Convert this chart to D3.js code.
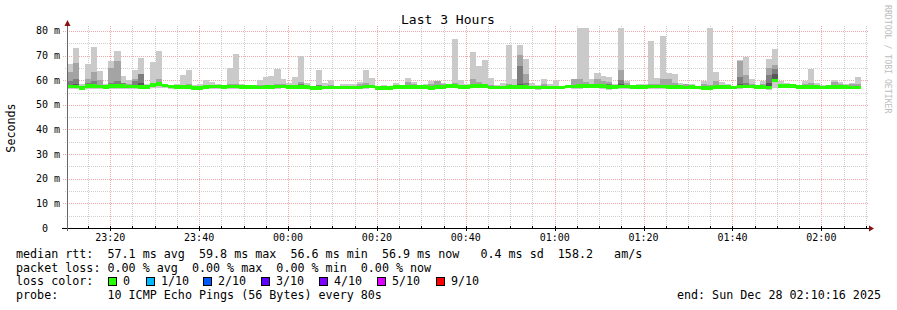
<!DOCTYPE html>
<html>
<head>
<meta charset="utf-8">
<script src="https://cdn.jsdelivr.net/npm/d3@7"></script>
<style>
  body { margin: 0; background: #fff; }
  svg { display: block; }
</style>
</head>
<body>
<div id="chart"></div>
<script>
// one value per 80s step (median of 10 pings, ms)
const medianRtt = [
  57.4, 57.4, 56.9, 57.7, 57.7, 57.4, 57.2, 57.7, 57.7, 57.6,
  57.5, 57.4, 57.3, 57.2, 58.1, 58.4, 57.8, 57.4, 57.2, 57.2,
  57.2, 56.8, 56.9, 57.3, 57.4, 57.4, 57.3, 57.4, 57.4, 57.3,
  57.2, 57.2, 57.0, 57.2, 57.2, 57.5, 57.5, 57.2, 57.2, 57.2,
  57.2, 56.8, 56.8, 57.0, 57.0, 57.0, 57.0, 57.0, 57.0, 57.0,
  57.5, 57.5, 56.8, 56.8, 56.8, 57.3, 57.3, 57.3, 57.3, 57.3,
  57.3, 56.8, 57.2, 57.2, 57.6, 57.6, 57.2, 57.2, 57.7, 57.6,
  57.6, 57.0, 57.0, 57.0, 57.3, 57.3, 57.3, 57.3, 57.0, 57.0,
  57.0, 57.0, 57.0, 57.0, 57.4, 57.4, 57.6, 57.6, 57.6, 57.7,
  57.7, 57.3, 57.3, 57.4, 57.4, 57.2, 57.2, 57.2, 57.4, 57.4,
  57.4, 57.2, 57.2, 57.3, 57.0, 57.3, 57.1, 56.8, 56.8, 57.2,
  57.2, 57.2, 57.0, 57.5, 57.5, 57.5, 57.2, 57.2, 57.0, 59.8,
  57.6, 57.6, 57.6, 57.3, 57.3, 57.3, 57.3, 57.0, 57.3, 57.3,
  57.3, 57.3, 57.0, 57.0
];

// slowest ping per step
const maxRtt = [
  66.6, 73.0, 58.5, 66.6, 73.4, 63.8, 58.4, 67.8, 71.8, 61.7,
  60.0, 64.2, 69.0, 58.5, 67.5, 71.8, 58.0, 57.9, 58.4, 62.1,
  64.2, 58.0, 58.5, 60.0, 59.2, 58.5, 58.0, 65.0, 70.6, 58.5,
  57.9, 58.0, 60.0, 61.5, 61.7, 64.5, 60.5, 58.8, 61.3, 70.0,
  59.0, 57.8, 64.2, 59.0, 59.9, 57.8, 58.5, 58.3, 58.5, 59.3,
  64.3, 61.0, 57.8, 58.2, 57.6, 58.8, 58.2, 61.0, 59.3, 58.2,
  58.5, 59.5, 59.5, 59.0, 58.0, 76.6, 60.1, 58.5, 71.4, 65.8,
  68.2, 61.0, 57.9, 58.8, 74.2, 60.5, 74.2, 68.6, 59.0, 58.2,
  60.5, 58.5, 60.1, 57.8, 58.2, 60.5, 81.1, 81.1, 60.5, 63.0,
  61.7, 61.3, 58.5, 81.1, 59.7, 57.8, 58.5, 58.5, 75.8, 61.0,
  77.9, 63.0, 62.5, 59.0, 58.5, 58.5, 57.8, 59.7, 81.1, 63.4,
  59.3, 58.5, 57.8, 68.2, 69.4, 60.5, 57.8, 59.6, 68.6, 72.6,
  59.7, 58.8, 58.2, 58.2, 59.6, 64.5, 58.8, 58.2, 58.2, 60.1,
  59.3, 58.5, 58.8, 61.3
];

// second slowest ping per step
const ping9 = [
  63.5, 67.0, 57.6, 60.5, 63.4, 60.0, 57.8, 65.0, 67.8, 58.8,
  58.3, 60.5, 62.7, 57.7, 59.0, 60.5, 58.2, 57.7, 57.6, 58.2,
  58.3, 57.3, 57.4, 58.0, 58.0, 57.8, 57.7, 58.3, 58.5, 57.8,
  57.6, 57.6, 58.0, 58.2, 58.0, 58.5, 58.3, 57.8, 58.2, 59.3,
  57.8, 57.3, 58.2, 57.6, 58.2, 57.4, 57.6, 57.7, 57.8, 58.5,
  58.8, 58.2, 57.6, 57.3, 57.2, 57.8, 57.7, 59.2, 58.4, 57.6,
  57.7, 58.5, 59.6, 58.4, 57.9, 59.0, 58.2, 57.6, 60.5, 59.3,
  58.5, 58.0, 57.4, 57.5, 58.3, 58.0, 70.2, 62.5, 57.8, 57.6,
  58.6, 57.5, 57.8, 57.3, 57.8, 60.5, 60.5, 59.2, 58.5, 60.5,
  59.8, 59.3, 57.9, 64.2, 58.8, 57.5, 57.7, 57.8, 58.5, 58.4,
  60.5, 60.5, 59.0, 57.8, 58.5, 57.6, 57.4, 58.4, 58.2, 59.8,
  58.0, 57.6, 57.4, 67.8, 62.1, 58.5, 57.4, 58.3, 65.0, 66.0,
  58.3, 57.9, 57.8, 57.5, 58.4, 59.0, 57.9, 57.5, 57.6, 59.3,
  58.3, 57.7, 58.3, 58.6
];

// fastest ping per step
const minRtt = [
  56.4, 56.3, 56.2, 56.5, 56.3, 56.3, 56.4, 56.6, 56.4, 56.5,
  56.6, 56.5, 56.3, 56.4, 56.9, 57.0, 56.7, 56.5, 56.4, 56.4,
  56.5, 56.2, 56.3, 56.5, 56.6, 56.5, 56.5, 56.4, 56.5, 56.5,
  56.5, 56.4, 56.3, 56.4, 56.5, 56.6, 56.7, 56.5, 56.5, 56.3,
  56.5, 56.2, 56.1, 56.3, 56.3, 56.4, 56.3, 56.4, 56.3, 56.4,
  56.6, 56.7, 56.2, 56.2, 56.3, 56.5, 56.4, 56.5, 56.4, 56.6,
  56.5, 56.1, 56.5, 56.4, 56.8, 56.7, 56.5, 56.5, 56.9, 56.8,
  56.7, 56.4, 56.3, 56.4, 56.6, 56.5, 56.3, 56.5, 56.4, 56.2,
  56.3, 56.4, 56.3, 56.4, 56.7, 56.5, 56.6, 56.8, 56.8, 56.7,
  56.6, 56.2, 56.5, 56.5, 56.6, 56.5, 56.4, 56.5, 56.6, 56.5,
  56.6, 56.5, 56.3, 56.6, 56.3, 56.4, 56.5, 56.2, 56.1, 56.5,
  56.4, 56.5, 56.3, 56.6, 56.7, 56.8, 56.5, 56.4, 56.2, 57.0,
  56.9, 56.8, 56.9, 56.6, 56.6, 56.5, 56.5, 56.3, 56.6, 56.5,
  56.6, 56.5, 56.3, 56.4
];

// steps where the inner (darker) smoke is visible above the median
const innerSteps = [0, 1, 3, 4, 7, 8, 9, 11, 12, 14, 15, 39, 42, 76, 77, 89, 91, 93, 113, 114, 118, 119];
const ping8 = [59.5, 60.5, 58.8, 59.8, 59.0, 59.5, 58.8, 59.5, 62.5, 58.8, 59.0, 58.3, 58.2, 65.8, 59.0, 58.5, 58.6, 60.0, 61.5, 58.8, 62.1, 64.5];
const ping7 = [58.2, 58.5, 58.0, 58.5, 58.2, 58.5, 58.3, 58.2, 59.0, 58.4, 58.8, 57.8, 57.8, 58.5, 58.0, 58.0, 58.2, 58.5, 58.5, 58.0, 59.0, 62.5];

const yTicks = [0, 10, 20, 30, 40, 50, 60, 70, 80];
const yTickLabels = ["0", "10 m", "20 m", "30 m", "40 m", "50 m", "60 m", "70 m", "80 m"];

const lossLabels = ["0", "1/10", "2/10", "3/10", "4/10", "5/10", "9/10"];
const lossColors = ["#26ff00", "#00b8ff", "#0059ff", "#5e00ff", "#7e00ff", "#dd00ff", "#ff0000"];

const legendLines = [
  "median rtt:  57.1 ms avg  59.8 ms max  56.6 ms min  56.9 ms now   0.4 ms sd  158.2   am/s",
  "packet loss: 0.00 % avg  0.00 % max  0.00 % min  0.00 % now",
  "loss color:",
  "probe:       10 ICMP Echo Pings (56 Bytes) every 80s"
];
const endLabel = "end: Sun Dec 28 02:10:16 2025";

function init() {
  const width = 897, height = 310;
  const left = 67, right = 867, top = 26, bottom = 228;
  const stepMs = 80 * 1000;
  const mono = "'DejaVu Sans Mono', monospace";

  const t0 = new Date(Date.UTC(2025, 11, 27, 23, 10, 16));
  const t1 = new Date(Date.UTC(2025, 11, 28, 2, 10, 16));

  const x = d3.scaleUtc().domain([t0, t1]).range([left, right]);
  const y = d3.scaleLinear().domain([0, 82]).range([bottom, top]);

  const svg = d3.select("#chart").append("svg")
    .attr("width", width)
    .attr("height", height);

  svg.append("rect").attr("width", width).attr("height", height).attr("fill", "#fff");

  // grid
  const grid = svg.append("g").attr("shape-rendering", "crispEdges");
  const minorT = d3.utcMinute.every(5).range(t0, t1);
  const majorT = d3.utcMinute.every(20).range(t0, t1);
  minorT.forEach(t => {
    const isMajor = t.getUTCMinutes() % 20 === 0;
    grid.append("line")
      .attr("x1", Math.round(x(t)) + 0.5).attr("x2", Math.round(x(t)) + 0.5)
      .attr("y1", top).attr("y2", bottom)
      .attr("stroke", isMajor ? "#f0a8a8" : "#cfcfcf")
      .attr("stroke-dasharray", "1,1");
  });
  for (let v = 5; v <= 80; v += 5) {
    const isMajor = v % 10 === 0;
    grid.append("line")
      .attr("x1", left - (isMajor ? 4 : 2)).attr("x2", right + 2)
      .attr("y1", Math.round(y(v)) + 0.5).attr("y2", Math.round(y(v)) + 0.5)
      .attr("stroke", isMajor ? "#f0a8a8" : "#cfcfcf")
      .attr("stroke-dasharray", "1,1");
  }

  // smoke
  const steps = medianRtt.map((m, i) => ({
    i: i,
    x0: x(new Date(t0.getTime() + i * stepMs)),
    x1: x(new Date(t0.getTime() + (i + 1) * stepMs)),
    med: m,
    lo: minRtt[i],
    p10: maxRtt[i],
    p9: ping9[i]
  }));

  const smoke = svg.append("g").attr("shape-rendering", "crispEdges");
  function band(data, hi, lo, color) {
    smoke.selectAll(null).data(data).enter().append("rect")
      .attr("x", d => d.x0)
      .attr("width", d => d.x1 - d.x0 + 0.2)
      .attr("y", d => y(hi(d)))
      .attr("height", d => Math.max(0, y(lo(d)) - y(hi(d))))
      .attr("fill", color);
  }
  band(steps, d => d.p10, d => d.lo, "#cacaca");
  band(steps, d => d.p9, d => d.med, "#a4a4a4");
  const inner = innerSteps.map((s, k) => Object.assign({}, steps[s], { p8: ping8[k], p7: ping7[k] }));
  band(inner, d => d.p8, d => d.med, "#7e7e7e");
  band(inner, d => d.p7, d => d.med, "#585858");

  // median, coloured by loss (all 0 here)
  smoke.selectAll(null).data(steps).enter().append("rect")
    .attr("x", d => d.x0)
    .attr("width", d => d.x1 - d.x0 + 0.2)
    .attr("y", d => y(d.med) - 1.7)
    .attr("height", 3.4)
    .attr("fill", lossColors[0]);

  // axes
  const ax = svg.append("g").attr("shape-rendering", "crispEdges");
  ax.append("line").attr("x1", left - 5).attr("x2", right + 2)
    .attr("y1", bottom + 0.5).attr("y2", bottom + 0.5).attr("stroke", "#000");
  ax.append("line").attr("x1", left + 0.5).attr("x2", left + 0.5)
    .attr("y1", top - 3).attr("y2", bottom + 3).attr("stroke", "#666");
  minorT.forEach(t => {
    const isMajor = t.getUTCMinutes() % 20 === 0;
    ax.append("line")
      .attr("x1", Math.round(x(t)) + 0.5).attr("x2", Math.round(x(t)) + 0.5)
      .attr("y1", bottom - 2).attr("y2", bottom + (isMajor ? 3 : 1))
      .attr("stroke", "#000");
  });
  svg.append("path")
    .attr("d", `M${left + 0.5},${top - 6} L${left - 2.5},${top} L${left + 3.5},${top} Z`)
    .attr("fill", "#8b1010");
  svg.append("path")
    .attr("d", `M${right + 7},${bottom + 0.5} L${right + 2},${bottom - 2.5} L${right + 2},${bottom + 3.5} Z`)
    .attr("fill", "#8b1010");

  // axis labels
  svg.selectAll(null).data(yTicks).enter().append("text")
    .attr("x", 60)
    .attr("y", d => y(d) + 3.5)
    .attr("text-anchor", "end")
    .attr("font-family", mono).attr("font-size", "10px")
    .attr("fill", "#000")
    .style("white-space", "pre")
    .text((d, i) => i === 0 ? "0  " : yTickLabels[i]);

  svg.selectAll(null).data(majorT).enter().append("text")
    .attr("x", d => x(d))
    .attr("y", 241)
    .attr("text-anchor", "middle")
    .attr("font-family", mono).attr("font-size", "10px")
    .attr("fill", "#000")
    .text(d3.utcFormat("%H:%M"));

  svg.append("text")
    .attr("transform", "translate(15,128) rotate(-90)")
    .attr("text-anchor", "middle")
    .attr("font-family", mono).attr("font-size", "11.7px")
    .text("Seconds");

  svg.append("text")
    .attr("x", 448).attr("y", 24)
    .attr("text-anchor", "middle")
    .attr("font-family", mono).attr("font-size", "13px")
    .text("Last 3 Hours");

  svg.append("text")
    .attr("transform", "translate(885,5) rotate(90)")
    .attr("font-family", mono).attr("font-size", "8.2px")
    .attr("fill", "#bdbdbd")
    .text("RRDTOOL / TOBI OETIKER");

  // legend
  const baselines = [258.3, 271.8, 285.3, 298.8];
  legendLines.forEach((s, i) => {
    svg.append("text")
      .attr("x", 16).attr("y", baselines[i])
      .attr("font-family", mono).attr("font-size", "11.7px")
      .style("white-space", "pre")
      .text(s);
  });
  const boxX = [108, 146, 203, 261, 319, 377, 436];
  lossLabels.forEach((lab, i) => {
    svg.append("rect")
      .attr("x", boxX[i] + 0.5).attr("y", 277.5)
      .attr("width", 8).attr("height", 8)
      .attr("fill", lossColors[i])
      .attr("stroke", "#000").attr("stroke-width", 1);
    svg.append("text")
      .attr("x", boxX[i] + 15).attr("y", baselines[2])
      .attr("font-family", mono).attr("font-size", "11.7px")
      .text(lab);
  });
  svg.append("text")
    .attr("x", 881).attr("y", baselines[3])
    .attr("text-anchor", "end")
    .attr("font-family", mono).attr("font-size", "11.7px")
    .text(endLabel);
}

window.onload = init;
</script>
</body>
</html>
